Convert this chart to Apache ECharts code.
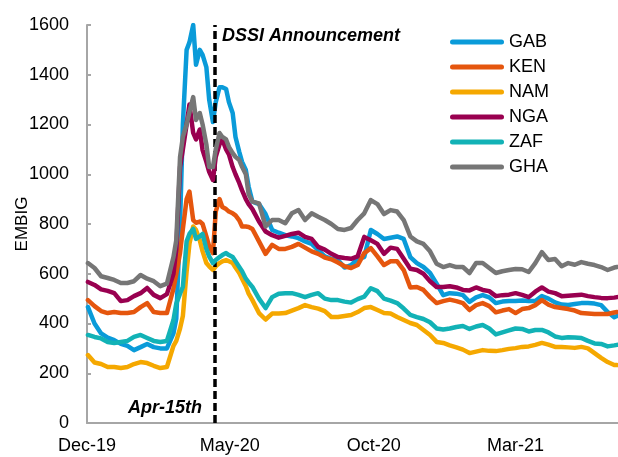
<!DOCTYPE html>
<html>
<head>
<meta charset="utf-8">
<script src="https://cdn.jsdelivr.net/npm/echarts@6/dist/echarts.min.js"></script>
<style>
  html, body { margin: 0; padding: 0; background: #fff; }
  #chart { width: 618px; height: 457px; }
</style>
</head>
<body>
<div id="chart"></div>
<script>
// weekly readings, twice a week around the Covid spike
const dates = [
  '2019-12-02','2019-12-09','2019-12-16','2019-12-23','2019-12-30','2020-01-06','2020-01-13','2020-01-20','2020-01-27','2020-02-03',
  '2020-02-10','2020-02-17','2020-02-24','2020-03-02','2020-03-05','2020-03-09','2020-03-12','2020-03-16','2020-03-19','2020-03-23',
  '2020-03-26','2020-03-30','2020-04-02','2020-04-06','2020-04-09','2020-04-13','2020-04-16','2020-04-20','2020-04-23','2020-04-27',
  '2020-04-30','2020-05-04','2020-05-07','2020-05-11','2020-05-14','2020-05-18','2020-05-21','2020-05-25','2020-06-01','2020-06-08',
  '2020-06-15','2020-06-22','2020-06-29','2020-07-06','2020-07-13','2020-07-20','2020-07-27','2020-08-03','2020-08-10','2020-08-17',
  '2020-08-24','2020-08-31','2020-09-07','2020-09-14','2020-09-21','2020-09-28','2020-10-05','2020-10-12','2020-10-19','2020-10-26',
  '2020-11-02','2020-11-09','2020-11-16','2020-11-23','2020-11-30','2020-12-07','2020-12-14','2020-12-21','2020-12-28','2021-01-04',
  '2021-01-11','2021-01-18','2021-01-25','2021-02-01','2021-02-08','2021-02-15','2021-02-22','2021-03-01','2021-03-08','2021-03-15',
  '2021-03-22','2021-03-29','2021-04-05','2021-04-12','2021-04-19','2021-04-26','2021-05-03','2021-05-10','2021-05-17','2021-05-24',
  '2021-05-31','2021-06-07','2021-06-14','2021-06-17'
];

const gab = [
  466,400,360,343,333,318,310,293,305,318,
  305,300,300,360,420,800,1200,1500,1530,1600,
  1440,1500,1480,1431,1300,1210,1290,1350,1350,1343,
  1290,1246,1150,1090,1050,1017,950,890,880,840,
  776,765,755,750,743,730,720,695,670,660,
  655,625,635,660,667,776,760,740,745,750,
  740,667,643,627,603,560,514,522,520,514,
  487,505,514,505,482,488,490,490,492,490,
  490,510,500,485,476,474,478,482,482,480,
  474,446,425,430
];
const ken = [
  494,470,450,442,446,442,442,446,466,482,
  446,442,442,540,600,683,780,900,930,816,
  805,810,800,750,710,683,850,900,868,860,
  850,843,835,815,790,790,788,780,730,680,
  716,700,700,708,720,705,690,680,665,658,
  645,630,623,635,683,703,670,635,650,650,
  615,545,547,535,506,482,490,496,490,482,
  454,474,482,470,445,452,458,442,458,462,
  474,494,476,466,462,458,452,442,440,438,
  438,438,444,446
];
const nam = [
  273,243,237,225,225,221,225,237,245,241,
  230,221,225,310,330,380,430,610,720,790,
  776,735,690,643,630,615,630,643,650,655,
  650,643,625,603,580,550,520,494,442,416,
  440,440,442,452,462,474,466,460,450,426,
  426,430,434,446,462,466,454,442,440,426,
  414,402,394,374,354,326,322,312,304,295,
  281,287,293,290,289,293,298,301,306,308,
  314,322,315,306,306,304,302,306,300,281,
  262,245,233,233
];
const nga = [
  567,555,537,531,522,490,494,510,522,543,
  515,502,518,600,700,1029,1100,1200,1280,1166,
  1140,1180,1097,1050,1010,977,1070,1120,1140,1100,
  1080,1029,1000,965,935,900,880,860,810,770,
  755,745,752,760,765,748,740,708,697,680,
  667,663,660,670,748,735,720,680,705,700,
  660,620,615,600,570,547,547,550,545,535,
  533,545,535,530,510,514,516,522,515,506,
  528,545,528,522,510,512,514,516,510,506,
  503,502,504,506
];
const zaf = [
  354,346,340,326,322,326,330,346,354,342,
  330,326,330,414,480,520,547,730,760,780,
  740,750,760,700,670,643,655,667,675,683,
  675,667,650,627,610,580,565,547,500,462,
  506,520,522,522,515,506,515,522,500,494,
  494,488,484,498,508,542,530,500,492,482,
  460,435,426,418,405,380,376,380,386,390,
  378,388,394,380,356,364,372,380,378,368,
  374,374,364,348,342,345,344,342,330,320,
  318,308,312,314
];
const gha = [
  643,623,590,583,575,563,563,570,595,580,
  570,550,560,667,735,1069,1150,1200,1250,1310,
  1218,1246,1200,1120,1029,1029,1100,1166,1150,1140,
  1110,1085,1070,1057,1030,1000,920,890,883,790,
  816,816,803,843,856,816,843,829,816,800,
  780,776,784,816,843,896,880,840,856,850,
  816,750,730,720,690,640,627,635,627,627,
  603,643,643,623,603,610,615,619,618,607,
  643,687,655,659,630,643,636,647,640,635,
  627,615,625,627
];

const names = ['GAB', 'KEN', 'NAM', 'NGA', 'ZAF', 'GHA'];
const xTickDates = ['2019-12-01', '2020-05-01', '2020-10-01', '2021-03-01'];
const xTickLabels = ['Dec-19', 'May-20', 'Oct-20', 'Mar-21'];
const eventDate = '2020-04-15';

var colors = ['#0A9BD9', '#E5560E', '#F5A800', '#990050', '#12B2B6', '#767676'];
var font = '"Liberation Sans", Arial, sans-serif';
var values = [gab, ken, nam, nga, zaf, gha];

function ts(d) {
    return echarts.time.parse(d).getTime();
}
var tickTimes = xTickDates.map(ts);

var series = names.map(function (name, i) {
    return {
        name: name,
        type: 'line',
        symbol: 'none',
        showSymbol: false,
        z: 2 + i,
        data: dates.map(function (d, j) { return [ts(d), values[i][j]]; }),
        lineStyle: { width: 4.5, color: colors[i], cap: 'round', join: 'round' },
        itemStyle: { color: colors[i] },
    };
});
// dashed line for the DSSI announcement
series[series.length - 1].markLine = {
    silent: true,
    symbol: 'none',
    animation: false,
    label: { show: false },
    lineStyle: { color: '#000', width: 3.5, type: [8, 4] },
    data: [{ xAxis: ts(eventDate) }],
};

var chart = echarts.init(document.getElementById('chart'));
chart.setOption({
    animation: false,
    backgroundColor: '#fff',
    grid: { left: 87, right: 0, top: 25, bottom: 34, outerBoundsMode: 'none' },
    legend: {
        orient: 'vertical',
        left: 445,
        top: 28,
        itemWidth: 54,
        itemHeight: 5,
        itemGap: 7,
        data: names,
        // capsule shaped legend line
        icon: 'path://M2.5,0H51.5A2.5,2.5,0,0,1,51.5,5H2.5A2.5,2.5,0,0,1,2.5,0Z',
        textStyle: { fontSize: 18, color: '#000', fontFamily: font, lineHeight: 18 },
    },
    xAxis: {
        // day timestamps on a value axis, labels only at the chart's month marks
        type: 'value',
        min: ts('2019-12-01'),
        max: ts('2021-06-18'),
        axisLine: { onZero: false, lineStyle: { color: '#A6A6A6', width: 2 } },
        axisTick: { show: false },
        splitLine: { show: false },
        axisLabel: {
            customValues: tickTimes,
            fontSize: 18,
            color: '#000',
            fontFamily: font,
            margin: 14,
            formatter: function (value) {
                for (var i = 0; i < tickTimes.length; i++) {
                    if (Math.abs(tickTimes[i] - value) < 86400000) return xTickLabels[i];
                }
                return '';
            },
        },
    },
    yAxis: {
        type: 'value',
        min: 0,
        max: 1600,
        interval: 200,
        name: 'EMBIG',
        nameLocation: 'middle',
        nameGap: 56,
        nameMoveOverlap: false,
        nameTextStyle: { fontSize: 17, color: '#000', fontFamily: font },
        axisLine: { show: true, lineStyle: { color: '#A6A6A6', width: 2 } },
        axisTick: { show: true, inside: true, length: 4, lineStyle: { color: '#A6A6A6', width: 2 } },
        splitLine: { show: false },
        axisLabel: {
            fontSize: 18, color: '#000', fontFamily: font, margin: 18,
            formatter: function (v) { return String(v); },
        },
    },
    graphic: [
        {
            type: 'text', left: 222, top: 27, z: 100,
            style: { text: 'DSSI Announcement', font: 'italic bold 18px ' + font, fill: '#000' },
        },
        {
            type: 'text', left: 128, top: 399, z: 100,
            style: { text: 'Apr-15th', font: 'italic bold 18px ' + font, fill: '#000' },
        },
    ],
    series: series,
});
</script>
</body>
</html>
